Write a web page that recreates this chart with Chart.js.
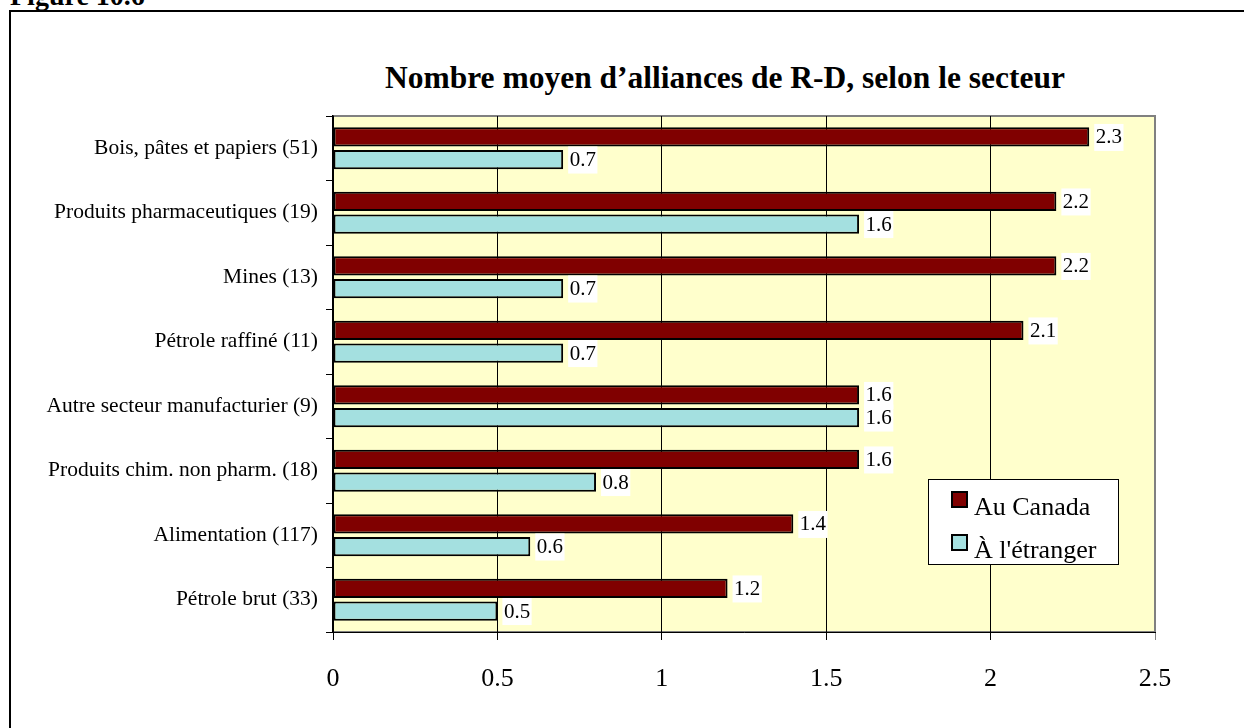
<!DOCTYPE html>
<html>
<head>
<meta charset="utf-8">
<script src="https://cdn.jsdelivr.net/npm/chart.js@4/dist/chart.umd.min.js"></script>
<style>
  body { margin: 0; background: #fff; }
  #wrap { position: relative; width: 1244px; height: 728px; overflow: hidden; }
  #fig { position: absolute; left: 10px; top: -18px; font: bold 28px 'Liberation Serif', 'Times New Roman', serif; line-height: 28px; }
  #frame { position: absolute; left: 9px; top: 10px; width: 1300px; height: 800px; border-left: 2px solid #000; border-top: 2px solid #000; }
  #title { position: absolute; left: 0; top: 60px; width: 1450px; text-align: center; font: bold 31.5px 'Liberation Serif', 'Times New Roman', serif; }
  canvas { position: absolute; left: 0; top: 0; }
</style>
</head>
<body>
<div id="wrap">
  <div id="fig">Figure 10.6</div>
  <div id="frame"></div>
  <div id="title">Nombre moyen d’alliances de R-D, selon le secteur</div>
  <canvas id="chart" width="1244" height="728"></canvas>
</div>
<script>
const sectors = [
  'Bois, pâtes et papiers (51)',
  'Produits pharmaceutiques (19)',
  'Mines (13)',
  'Pétrole raffiné (11)',
  'Autre secteur manufacturier (9)',
  'Produits chim. non pharm. (18)',
  'Alimentation (117)',
  'Pétrole brut (33)'
];
const auCanada = [2.3, 2.2, 2.2, 2.1, 1.6, 1.6, 1.4, 1.2];
const aLEtranger = [0.7, 1.6, 0.7, 0.7, 1.6, 0.8, 0.6, 0.5];
const seriesNames = ['Au Canada', "À l'étranger"];

const serif = "'Liberation Serif', 'Times New Roman', serif";

// plot background + grey frame
const plotBg = {
  id: 'plotBg',
  beforeDraw(chart) {
    const { ctx, chartArea: a } = chart;
    ctx.save();
    ctx.fillStyle = '#FFFFCC';
    ctx.fillRect(a.left, a.top, a.right - a.left, a.bottom - a.top);
    ctx.strokeStyle = '#808080';
    ctx.lineWidth = 2;
    ctx.strokeRect(a.left, a.top, a.right - a.left, a.bottom - a.top);
    ctx.restore();
  }
};

// value labels on white boxes
const valueLabels = {
  id: 'valueLabels',
  afterDatasetsDraw(chart) {
    const ctx = chart.ctx;
    ctx.save();
    ctx.font = '21px ' + serif;
    ctx.textBaseline = 'middle';
    ctx.textAlign = 'left';
    chart.data.datasets.forEach((ds, i) => {
      chart.getDatasetMeta(i).data.forEach((bar, j) => {
        const txt = ds.data[j].toFixed(1);
        const w = ctx.measureText(txt).width;
        ctx.fillStyle = '#fff';
        ctx.fillRect(bar.x + 5, bar.y - 13, w + 3, 27);
        ctx.fillStyle = '#000';
        ctx.fillText(txt, bar.x + 6.5, bar.y + 1);
      });
    });
    ctx.restore();
  }
};

// legend box inside the plot, lower right
const boxLegend = {
  id: 'boxLegend',
  afterDraw(chart) {
    const { ctx, chartArea: a } = chart;
    const w = 190, h = 85;
    const x = a.right - 37 - w, y = a.bottom - 68 - h;
    ctx.save();
    ctx.fillStyle = '#fff';
    ctx.fillRect(x, y, w, h);
    ctx.strokeStyle = '#000';
    ctx.lineWidth = 1;
    ctx.strokeRect(x + 0.5, y + 0.5, w, h);
    ctx.font = '26px ' + serif;
    ctx.textBaseline = 'alphabetic';
    chart.data.datasets.forEach((ds, i) => {
      const ry = y + 13 + i * 43;
      ctx.fillStyle = ds.backgroundColor;
      ctx.fillRect(x + 24, ry, 15, 15);
      ctx.lineWidth = 2;
      ctx.strokeRect(x + 24, ry, 15, 15);
      ctx.fillStyle = '#000';
      ctx.fillText(ds.label, x + 46, ry + 23);
    });
    ctx.restore();
  }
};

new Chart(document.getElementById('chart'), {
  type: 'bar',
  data: {
    labels: sectors,
    datasets: [
      { label: seriesNames[0], data: auCanada, backgroundColor: '#800000' },
      { label: seriesNames[1], data: aLEtranger, backgroundColor: '#A4E0E0' }
    ]
  },
  options: {
    indexAxis: 'y',
    responsive: false,
    animation: false,
    layout: { padding: { top: 116, right: 89, bottom: 0, left: 0 } },
    datasets: {
      bar: {
        borderColor: '#000',
        borderWidth: 2,
        borderSkipped: false,
        categoryPercentage: 0.7,
        barPercentage: 0.85
      }
    },
    plugins: {
      legend: { display: false },
      title: { display: false },
      tooltip: { enabled: false }
    },
    scales: {
      x: {
        min: 0,
        max: 2.5,
        ticks: {
          stepSize: 0.5,
          color: '#000',
          padding: 24,
          font: { family: serif, size: 26 },
          callback: (v) => String(v)
        },
        grid: {
          color: (c) => (c.tick && c.tick.value === 2.5 ? '#808080' : '#000'),
          lineWidth: 1,
          tickLength: 8
        },
        border: { color: '#000', width: 1 },
        afterFit: (s) => { s.height = 96; }
      },
      y: {
        ticks: {
          color: '#000',
          padding: 8,
          font: { family: serif, size: 21.5 }
        },
        grid: {
          drawOnChartArea: false,
          color: '#000',
          tickLength: 7
        },
        border: { color: '#000', width: 1.5 },
        afterFit: (s) => { s.width = 333; }
      }
    }
  },
  plugins: [plotBg, valueLabels, boxLegend]
});
</script>
</body>
</html>
